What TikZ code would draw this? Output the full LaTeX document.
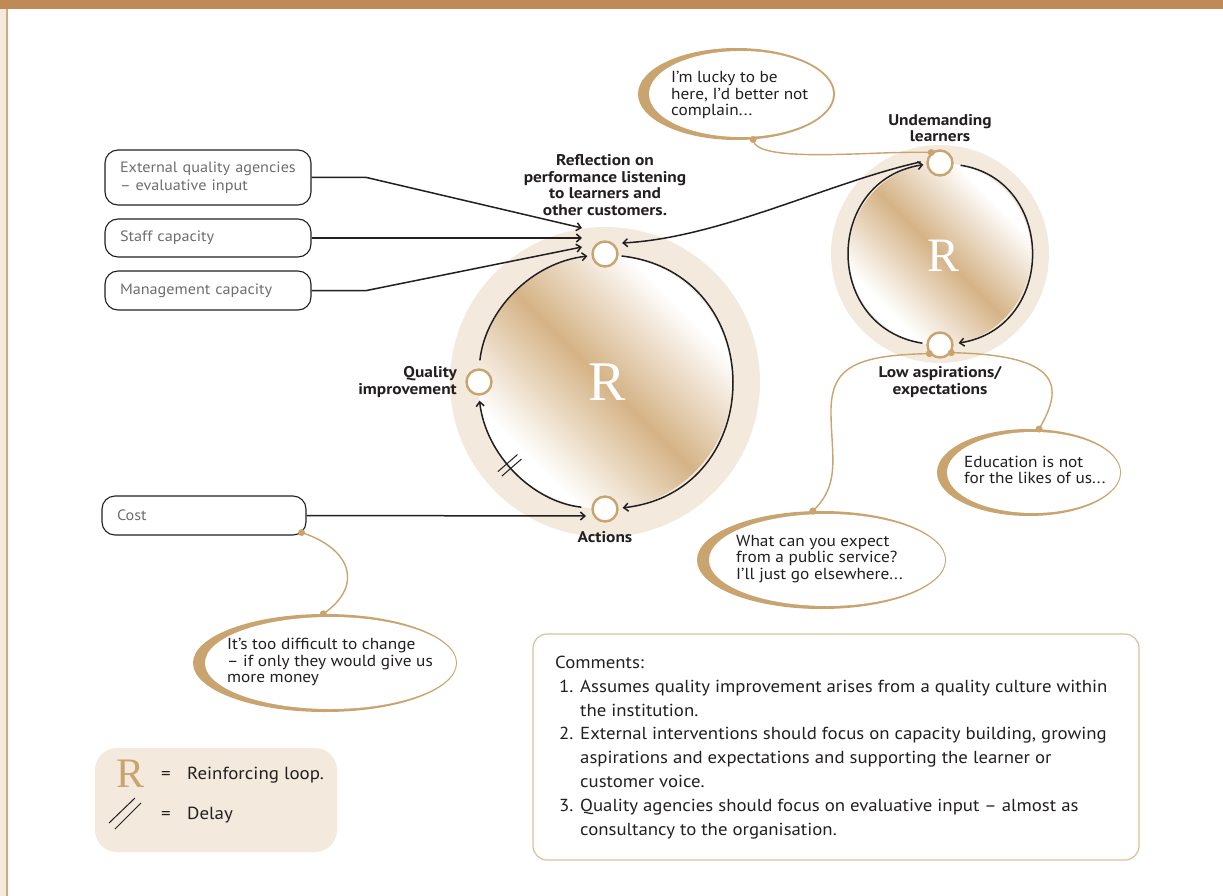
\documentclass[tikz,border=0pt]{standalone}
\usepackage{fontspec}
\setmainfont{PT Sans}[FakeStretch=1.08, BoldFeatures={FakeStretch=1.12}]
\newfontfamily\serifR{Liberation Serif}
\usetikzlibrary{arrows.meta,calc,shapes.geometric,decorations.markings}

\definecolor{ink}{HTML}{231F20}
\definecolor{boxgrey}{HTML}{6D6E71}
\definecolor{tan}{HTML}{C9A46F}
\definecolor{pale}{HTML}{F3EADD}
\definecolor{topband}{HTML}{BE8A57}
\definecolor{edge}{HTML}{D4A97A}
\definecolor{loopshade}{HTML}{D5B386}
\definecolor{noteline}{HTML}{DDBF98}

% white - tan - white band across each loop disc
\pgfdeclarehorizontalshading{loopband}{100bp}{color(0bp)=(white); color(29bp)=(white); color(50bp)=(loopshade); color(71bp)=(white); color(100bp)=(white)}

\newcommand\itemno[1]{\makebox[25pt][l]{\hspace{4pt}#1}}

\begin{document}
\begin{tikzpicture}[x=1pt,y=-1pt,
  inbox/.style={draw=ink, line width=1.1pt, rounded corners=13pt, fill=white,
    minimum width=206pt, text width=176pt, inner xsep=15pt, inner ysep=0pt, align=left,
    text=boxgrey, font=\fontsize{15}{17.5}\selectfont},
  var/.style={circle, draw=tan, line width=2.4pt, fill=white, minimum size=25pt, inner sep=0pt},
  varlabel/.style={font=\bfseries\fontsize{15.5}{16.5}\selectfont, text=ink, align=center, inner sep=0pt},
  flow/.style={draw=ink, line width=1.5pt, -{Straight Barb[length=4.5pt,width=8pt]}},
  bubout/.style={ellipse, fill=tan, inner sep=0pt},
  bubin/.style={ellipse, fill=white, inner sep=0pt},
  bubtext/.style={font=\fontsize{16}{16.5}\selectfont, text=ink, align=left, inner sep=0pt, anchor=west},
  thread/.style={draw=tan, line width=1.4pt},
  delaymark/.style={-, draw=ink, line width=1pt, shorten <=0pt, shorten >=0pt},
  keytext/.style={font=\fontsize{17.5}{17.5}\selectfont, text=ink, inner sep=0pt},
]
\useasboundingbox (0,0) rectangle (1223,896);
\fill[white] (0,0) rectangle (1223,896);

% page frame
\fill[topband] (0,0) rectangle (1223,9);
\fill[pale] (0,9) rectangle (6,896);
\draw[edge, line width=1.5pt] (6.9,9) -- (6.9,896);

% loop discs
\coordinate (c1) at (605,382);
\fill[pale] (c1) circle[radius=155];
\shade[shading=loopband, shading angle=45] (c1) circle[radius=127];
\node[font=\serifR\fontsize{56}{56}\selectfont, text=white, inner sep=0pt] (r1) at (607,382) {R};

\coordinate (c2) at (940,254);
\fill[pale] (c2) circle[radius=109];
\shade[shading=loopband, shading angle=45] (c2) circle[radius=91];
\node[font=\serifR\fontsize{48}{48}\selectfont, text=white, inner sep=0pt] (r2) at (943,256) {R};

% variables
\node[var] (refl) at (605,254) {};
\node[var] (qual) at (479,382) {};
\node[var] (act)  at (605,509) {};
\node[var] (und)  at (940,163) {};
\node[var] (low)  at (940,345) {};

\node[varlabel] (reflL) at (605,185) {Reflection on\\performance listening\\to learners and\\other customers.};
\node[varlabel, anchor=east, align=right] (qualL) at (457,382) {Quality\\improvement};
\node[varlabel] (actL) at (605,537) {Actions};
\node[varlabel] (undL) at (940,128) {Undemanding\\learners};
\node[varlabel] (lowL) at (940,382) {Low aspirations/\\expectations};

% loop links
\draw[flow, shorten <=8pt, shorten >=4pt] (qual.north) .. controls +(6.5,-59) and +(-59,6.5) .. (refl.187);
\draw[flow, shorten <=3pt, shorten >=4pt] (refl.-7) .. controls +(151,17) and +(151,-17) .. (act.3);
\draw[flow, shorten <=10pt, shorten >=5pt, postaction={decorate},
  decoration={markings, mark=at position 0.55 with {\draw[delaymark] (-3,-13) -- (-3,13) (3,-13) -- (3,13);}}]
  (act.177) .. controls +(-59,-6.5) and +(6.5,59) .. (qual.south);
\draw[flow, shorten <=7pt, shorten >=5pt] (und.-5) .. controls +(103,16) and +(103,-16) .. (low.5);
\draw[flow, shorten <=4pt, shorten >=3pt] (low.175) .. controls +(-103,-16) and +(-103,16) .. (und.185);

% external inputs
\node[inbox, minimum height=55pt] (ext) at (208,177.5) {External quality agencies\\– evaluative input};
\node[inbox, minimum height=38pt] (staff) at (208,238) {Staff capacity};
\node[inbox, minimum height=39pt] (mgmt) at (208,290.5) {Management capacity};
\node[inbox, minimum height=39pt, minimum width=204pt, text width=174pt] (cost) at (204,515.5) {Cost};

\coordinate (in1) at ($(refl)+(-23,-26)$);
\coordinate (in2) at ($(refl)+(-23,-16)$);
\coordinate (in3) at ($(refl)+(-23,-7)$);
\coordinate (reflin) at ($(refl)+(17,-11)$);
\coordinate (actin) at ($(act)+(-19,7)$);
\draw[flow] (ext.east) -- ++(55,0) -- (in1);
\draw[flow] (staff.east) -- (in2);
\draw[flow] (mgmt.east) -- ++(55,0) -- (in3);
\draw[flow] (cost.east) -- (actin);
\draw[flow, shorten <=6pt] (und.170) .. controls (830,182) and (720,238) .. (reflin);

% speech bubbles
\node[bubout, minimum width=197pt, minimum height=92pt] (bubA) at (736.5,94) {};
\node[bubin, minimum width=184pt, minimum height=86pt] (bubAin) at (741,94) {};
\node[bubtext] (txtA) at (671,95) {I’m lucky to be\\here, I’d better not\\complain...};

\node[bubout, minimum width=184pt, minimum height=87pt] (bubB) at (1029,472.5) {};
\node[bubin, minimum width=173pt, minimum height=81pt] (bubBin) at (1033.5,472.5) {};
\node[bubtext] (txtB) at (964,470) {Education is not\\for the likes of us...};

\node[bubout, minimum width=249pt, minimum height=98pt] (bubC) at (821.5,560) {};
\node[bubin, minimum width=236pt, minimum height=92pt] (bubCin) at (827,560) {};
\node[bubtext] (txtC) at (736,559) {What can you expect\\from a public service?\\I’ll just go elsewhere...};

\node[bubout, minimum width=264pt, minimum height=98pt] (bubD) at (325,663) {};
\node[bubin, minimum width=251pt, minimum height=92pt] (bubDin) at (330.5,663) {};
\node[bubtext] (txtD) at (227,662) {It’s too difficult to change\\– if only they would give us\\more money};

% threads tying bubbles to variables
\coordinate (costdot) at ($(cost.south east)+(-5,-3)$);
\draw[thread] (bubA.-70) .. controls (755,165) and (880,150) .. (und.130);
\draw[thread] (low.-34) .. controls (1060,355) and (1065,385) .. (bubB.77);
\draw[thread] (low.-141) .. controls (850,355) and (830,370) .. (831,415) .. controls (832,460) and (840,485) .. (bubC.100);
\draw[thread] (costdot) .. controls (350,548) and (365,585) .. (bubD.92);
\foreach \p in {bubA.-70, und.130, low.-34, bubB.77, low.-141, bubC.100, costdot, bubD.92}
  \fill[tan] (\p) circle[radius=3.5];

% comments
\node[draw=noteline, line width=1.2pt, rounded corners=14pt, fill=white, minimum width=606pt, minimum height=226pt, inner sep=0pt] (notes) at (836,747) {};
\node[font=\fontsize{17.4}{23.8}\selectfont, text=ink, align=left, inner sep=0pt, anchor=north west] (notestext) at (555,656)
 {Comments:\\\itemno{1.}Assumes quality improvement arises from a quality culture within\\\itemno{}the institution.\\\itemno{2.}External interventions should focus on capacity building, growing\\\itemno{}aspirations and expectations and supporting the learner or\\\itemno{}customer voice.\\\itemno{3.}Quality agencies should focus on evaluative input – almost as\\\itemno{}consultancy to the organisation.};

% key
\node[fill=pale, rounded corners=22pt, minimum width=242pt, minimum height=104pt, inner sep=0pt] (legend) at (216,800) {};
\node[font=\serifR\fontsize{42}{42}\selectfont, text=tan, inner sep=0pt] (legR) at (131,774) {R};
\node[keytext] (eq1) at (166,775) {=};
\node[keytext, anchor=west] (legRtxt) at (187,775) {Reinforcing loop.};
\draw[ink, line width=1pt] (109,823) -- (135,798) (115,829) -- (141,803);
\node[keytext] (eq2) at (166,815) {=};
\node[keytext, anchor=west] (delaytxt) at (187,815) {Delay};
\end{tikzpicture}
\end{document}
